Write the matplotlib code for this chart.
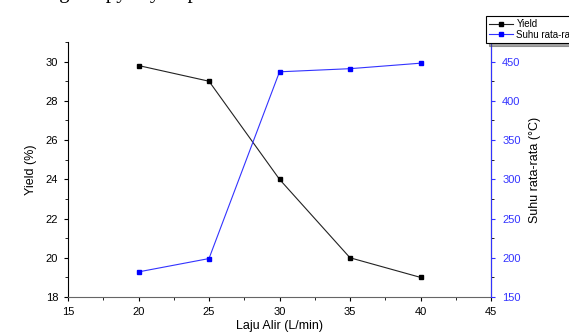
import matplotlib.pyplot as plt
from matplotlib.ticker import MultipleLocator

plt.rcParams['font.family'] = ['Liberation Sans', 'DejaVu Sans']
plt.rcParams['font.size'] = 8

# data
flow = [20, 25, 30, 35, 40]
yield_pct = [29.8, 29.0, 24.0, 20.0, 19.0]
suhu = [182, 199, 437, 441, 448]

fig = plt.figure(figsize=(5.69, 3.34), dpi=100)

# clipped caption line from the page above the chart
fig.text(0.027, 1.02, 'during the pyrolysis process.', family='Liberation Serif',
         fontsize=15, ha='left', va='center')

ax = fig.add_axes([68/569, 1-297/334, (491-68)/569, (297-42)/334])
ax.plot(flow, yield_pct, color='#222222', lw=0.8, marker='s', ms=3.5,
        mfc='black', mec='black', label='Yield')
ax.set_xlim(15, 45)
ax.set_ylim(18, 31)
ax.xaxis.set_major_locator(MultipleLocator(5))
ax.xaxis.set_minor_locator(MultipleLocator(2.5))
ax.yaxis.set_major_locator(MultipleLocator(2))
ax.yaxis.set_minor_locator(MultipleLocator(1))
ax.spines['top'].set_visible(False)
ax.spines['bottom'].set_color('#666666')
ax.tick_params(direction='out', length=3, width=0.8, labelsize=8, pad=4)
ax.tick_params(which='minor', length=2)
ax.set_xlabel('Laju Alir (L/min)', fontsize=9, labelpad=2)
ax.set_ylabel('Yield (%)', fontsize=9, labelpad=6)

ax2 = ax.twinx()
ax2.plot(flow, suhu, color='#3333ff', lw=0.8, marker='s', ms=3.5,
         mfc='#0000ff', mec='#0000ff', label='Suhu rata-rata')
ax2.set_ylim(150, 475)
ax2.yaxis.set_major_locator(MultipleLocator(50))
ax2.yaxis.set_minor_locator(MultipleLocator(25))
ax2.spines['top'].set_visible(False)
ax2.spines['left'].set_visible(False)
ax2.spines['bottom'].set_visible(False)
ax2.spines['right'].set_color('#3333ff')
ax2.tick_params(axis='y', colors='#3333ff', direction='out', length=3, width=0.8,
                labelsize=8, pad=5)
ax2.tick_params(which='minor', length=2)
ax2.set_ylabel('Suhu rata-rata (°C)', fontsize=9, labelpad=6)

h1, l1 = ax.get_legend_handles_labels()
h2, l2 = ax2.get_legend_handles_labels()
leg = fig.legend(h1 + h2, l1 + l2, loc='upper left', bbox_to_anchor=(481/569, 1-11/334),
                 fontsize=7, frameon=True, fancybox=False, shadow=True,
                 handlelength=2.4, borderpad=0.35, labelspacing=0.05, handletextpad=0.4)
leg.get_frame().set_edgecolor('black')
leg.get_frame().set_linewidth(0.8)

fig.savefig('out.png', dpi=100)
